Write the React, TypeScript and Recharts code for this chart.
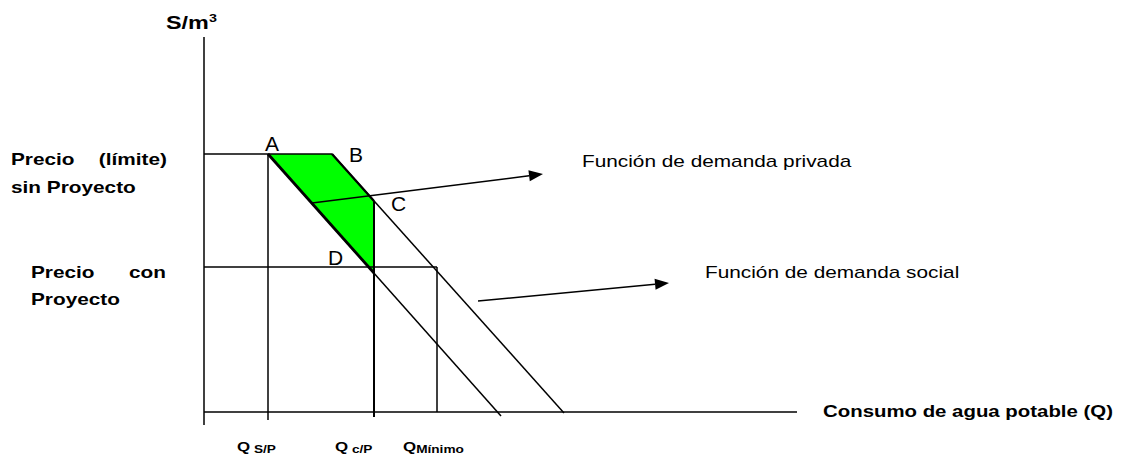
import React from 'react';
import {
  ComposedChart,
  XAxis,
  YAxis,
  Line,
  Area,
  Scatter,
  ReferenceLine,
} from 'recharts';

// Abstract price (p) / quantity (q) units
const socialDemand = [
  { q: 6.4, p: 25.8 },
  { q: 29.7, p: -0.4 },
];
const privateDemand = [
  { q: 12.8, p: 25.8 },
  { q: 36.0, p: -0.1 },
];
// green surplus area A-B-C-D, [lower, upper]
const welfareArea = [
  { q: 6.4, band: [25.8, 25.8] },
  { q: 12.8, band: [18.6, 25.8] },
  { q: 17.0, band: [13.9, 21.1] },
];
const priceWithout = 25.8;
const priceWith = 14.5;
const qWithout = 6.4;
const qWith = 17.0;
const qMin = 23.3;
const pointC = 21.1;
const pointD = 13.9;

const pointLetters = [
  { q: 6.1, p: 26.1, text: 'A' },
  { q: 14.5, p: 25.0, text: 'B' },
  { q: 18.7, p: 20.1, text: 'C' },
  { q: 12.4, p: 14.7, text: 'D' },
];
const curveNotes = [
  { q: 37.8, p: 24.5, text: 'Función de demanda privada' },
  { q: 50.1, p: 13.4, text: 'Función de demanda social' },
];
const priceLabelsLeft = [
  { q: -19.3, p: 24.7, text: 'Precio' },
  { q: -19.3, p: 21.9, text: 'sin Proyecto' },
  { q: -17.3, p: 13.4, text: 'Precio' },
  { q: -17.3, p: 10.7, text: 'Proyecto' },
];
const priceLabelsRight = [
  { q: -3.7, p: 24.7, text: '(límite)' },
  { q: -3.8, p: 13.4, text: 'con' },
];
const quantityLabels = [
  { q: 3.3, p: -3.9, main: 'Q', sub: ' S/P' },
  { q: 13.1, p: -3.9, main: 'Q', sub: ' c/P' },
  { q: 19.9, p: -3.9, main: 'Q', sub: 'Mínimo' },
];
const yTitle = [{ q: -3.8, p: 38.3, text: 'S/m', sup: '3' }];
const xTitle = [{ q: 61.9, p: -0.5, text: 'Consumo de agua potable (Q)' }];

const FONT = '"Liberation Sans", Arial, sans-serif';
const STRETCH = 1.3;
const LINE = { stroke: '#000', strokeWidth: 1.5, ifOverflow: 'visible' as const };

const stretched = (cx: number, cy: number, k = STRETCH) => `translate(${cx},${cy}) scale(${k},1)`;

const makeText =
  (size: number, weight: string, anchor: 'start' | 'end' = 'start', k = STRETCH) =>
  (props: any) => (
    <text
      transform={stretched(props.cx, props.cy, k)}
      fontFamily={FONT}
      fontSize={size}
      fontWeight={weight}
      textAnchor={anchor}
      fill="#000"
    >
      {props.payload.text}
    </text>
  );

const QLabel = (props: any) => (
  <text transform={stretched(props.cx, props.cy)} fontFamily={FONT} fontWeight="bold" fill="#000">
    <tspan fontSize={13}>{props.payload.main}</tspan>
    <tspan fontSize={10.5} dy={1.5}>{props.payload.sub}</tspan>
  </text>
);

const YTitle = (props: any) => (
  <text transform={stretched(props.cx, props.cy)} fontFamily={FONT} fontWeight="bold" fill="#000">
    <tspan fontSize={18}>{props.payload.text}</tspan>
    <tspan fontSize={11} dy={-7}>{props.payload.sup}</tspan>
  </text>
);

const Arrow = (props: any) => {
  const { x1, y1, x2, y2 } = props;
  const a = Math.atan2(y2 - y1, x2 - x1);
  const len = 14;
  const half = 5.5;
  const bx = x2 - len * Math.cos(a);
  const by = y2 - len * Math.sin(a);
  const nx = -Math.sin(a) * half;
  const ny = Math.cos(a) * half;
  return (
    <g>
      <line x1={x1} y1={y1} x2={bx} y2={by} stroke="#000" strokeWidth={1.5} />
      <polygon points={`${x2},${y2} ${bx + nx},${by + ny} ${bx - nx},${by - ny}`} fill="#000" />
    </g>
  );
};

export default function App() {
  return (
    <ComposedChart width={1113} height={453} margin={{ top: 0, right: 0, bottom: 0, left: 0 }}>
      <XAxis dataKey="q" type="number" domain={[-19.6, 91.7]} allowDataOverflow hide />
      <YAxis type="number" domain={[-4.9, 40.4]} allowDataOverflow hide />

      <Area
        data={welfareArea}
        dataKey="band"
        type="linear"
        fill="#00ff00"
        fillOpacity={1}
        stroke="none"
        isAnimationActive={false}
      />

      {/* axes */}
      <ReferenceLine segment={[{ x: 0, y: -1.3 }, { x: 0, y: 37.5 }]} {...LINE} />
      <ReferenceLine segment={[{ x: 0, y: 0 }, { x: 59.3, y: 0 }]} {...LINE} />

      {/* price levels */}
      <ReferenceLine segment={[{ x: 0, y: priceWithout }, { x: 12.8, y: priceWithout }]} {...LINE} />
      <ReferenceLine segment={[{ x: 0, y: priceWith }, { x: qMin, y: priceWith }]} {...LINE} />

      {/* quantities */}
      <ReferenceLine segment={[{ x: qWithout, y: priceWithout }, { x: qWithout, y: -0.8 }]} {...LINE} />
      <ReferenceLine segment={[{ x: qWith, y: pointC }, { x: qWith, y: -0.5 }]} {...LINE} strokeWidth={2} />
      <ReferenceLine segment={[{ x: qMin, y: priceWith }, { x: qMin, y: 0 }]} {...LINE} />

      <Line data={socialDemand} dataKey="p" type="linear" dot={false} stroke="#000" strokeWidth={1.5} isAnimationActive={false} />
      <Line data={privateDemand} dataKey="p" type="linear" dot={false} stroke="#000" strokeWidth={1.5} isAnimationActive={false} />
      {/* heavier edges of the green area */}
      <ReferenceLine segment={[{ x: qWithout, y: priceWithout }, { x: qWith, y: pointD }]} {...LINE} strokeWidth={2.8} />
      <ReferenceLine segment={[{ x: 12.8, y: priceWithout }, { x: qWith, y: pointC }]} {...LINE} strokeWidth={2.2} />

      {/* arrows to the curve notes */}
      <ReferenceLine segment={[{ x: 10.8, y: 20.9 }, { x: 33.9, y: 23.8 }]} ifOverflow="visible" shape={Arrow} />
      <ReferenceLine segment={[{ x: 27.4, y: 11.1 }, { x: 46.5, y: 12.9 }]} ifOverflow="visible" shape={Arrow} />

      <Scatter data={pointLetters} dataKey="p" shape={makeText(20, 'normal', 'start', 1.05)} isAnimationActive={false} />
      <Scatter data={curveNotes} dataKey="p" shape={makeText(16, 'normal')} isAnimationActive={false} />
      <Scatter data={priceLabelsLeft} dataKey="p" shape={makeText(16, 'bold')} isAnimationActive={false} />
      <Scatter data={priceLabelsRight} dataKey="p" shape={makeText(16, 'bold', 'end')} isAnimationActive={false} />
      <Scatter data={quantityLabels} dataKey="p" shape={QLabel} isAnimationActive={false} />
      <Scatter data={yTitle} dataKey="p" shape={YTitle} isAnimationActive={false} />
      <Scatter data={xTitle} dataKey="p" shape={makeText(15.7, 'bold')} isAnimationActive={false} />
    </ComposedChart>
  );
}
